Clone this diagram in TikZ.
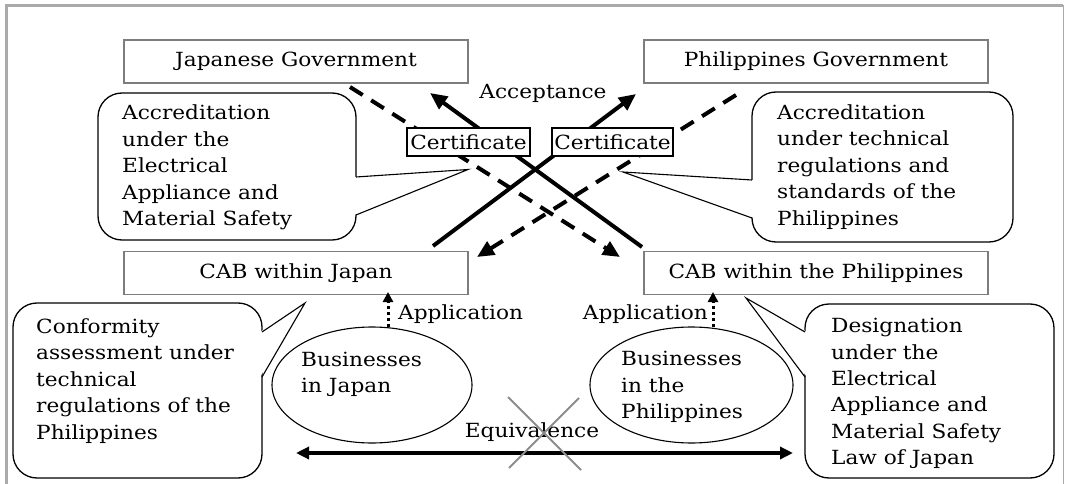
\documentclass[tikz,border=0pt]{standalone}
\usepackage{fontspec}
\setmainfont{DejaVu Serif}[FakeStretch=1.11]
\usetikzlibrary{arrows.meta,shapes.geometric}
\definecolor{boxgray}{RGB}{125,125,125}
\definecolor{framegray}{RGB}{170,170,170}
\definecolor{crossgray}{RGB}{140,140,140}
\begin{document}
\begin{tikzpicture}[x=1pt,y=-1pt,
  every node/.style={font=\fontsize{19.5}{26.4}\selectfont, inner sep=0pt},
  gbox/.style={draw=boxgray, line width=1.5pt, fill=white, minimum width=344pt, minimum height=43pt},
  certbox/.style={draw=black, line width=1.3pt, fill=white, minimum height=28pt},
  bubble/.style={draw=black, line width=1.3pt, fill=white, rounded corners=24pt},
  ptr/.style={draw=black, line width=1.1pt, line join=miter},
  txt/.style={align=left, anchor=west},
  bizell/.style={draw=black, line width=1.1pt, ellipse, minimum width=200pt, minimum height=116pt},
  bigarrow/.style={line width=4pt, -{Triangle[length=17pt,width=15pt]}},
  dasharrow/.style={line width=4pt, dash pattern=on 15pt off 10pt, -{Triangle[length=17pt,width=15pt]}},
  apparrow/.style={line width=3pt, dash pattern=on 3pt off 3pt, -{Triangle[length=10pt,width=10pt]}},
  eqarrow/.style={line width=3.5pt, {Triangle[length=13pt,width=12pt]}-{Triangle[length=13pt,width=12pt]}},
]
\useasboundingbox (0,0) rectangle (1066,484);
% frame
\draw[framegray, line width=3pt] (6,484) -- (6,5.5) -- (1063,5.5);
\draw[framegray, line width=1pt] (1063,5.5) -- (1063,484);

% boxes
\node[gbox] (jg) at (296,61.5) {Japanese Government};
\node[gbox] (pg) at (816,61.5) {Philippines Government};
\node[gbox] (cabj) at (296,273) {CAB within Japan};
\node[gbox] (cabp) at (816,273) {CAB within the Philippines};

% arrow end points
\coordinate (a1s) at (642,247);
\coordinate (a1e) at (430,93);
\coordinate (a2s) at (433,246);
\coordinate (a2e) at (636,94);
\coordinate (d1s) at (350,87);
\coordinate (d1e) at (620,257);
\coordinate (d2s) at (736,95);
\coordinate (d2e) at (477,257);

\draw[dasharrow] (d1s) -- (d1e);
\draw[dasharrow] (d2s) -- (d2e);
\draw[bigarrow] (a1s) -- (a1e);
\draw[bigarrow] (a2s) -- (a2e);

\node[certbox, minimum width=123pt] (cert1) at (468.5,142) {Certificate};
\node[certbox, minimum width=121pt] (cert2) at (612.5,142) {Certificate};
\node (acc) at (543,93) {Acceptance};

% callout 1
\draw[bubble] (98,93) rectangle (356,240);
\fill[white] (354,177) -- (468,169.5) -- (354,215) -- cycle;
\draw[ptr] (356,177) -- (468,169.5) -- (356,215);
\node[txt] (c1t) at (122,167.5) {Accreditation\\under the\\Electrical\\Appliance and\\Material Safety};

% callout 2
\draw[bubble] (752,92) rectangle (1013,242);
\fill[white] (754,180) -- (623,172) -- (754,218) -- cycle;
\draw[ptr] (752,180) -- (623,172) -- (752,218);
\node[txt] (c2t) at (777,167) {Accreditation\\under technical\\regulations and\\standards of the\\Philippines};

% callout 3
\draw[bubble] (13,303) rectangle (262,478);
\fill[white] (260,332) -- (305,303) -- (260,377) -- cycle;
\draw[ptr] (262,332) -- (305,303) -- (262,377);
\node[txt] (c3t) at (36,381) {Conformity\\assessment under\\technical\\regulations of the\\Philippines};

% callout 4
\draw[bubble] (805,304) rectangle (1054,478);
\fill[white] (807,332) -- (746,298) -- (807,377) -- cycle;
\draw[ptr] (805,332) -- (746,298) -- (805,377);
\node[txt] (c4t) at (831,393.5) {Designation\\under the\\Electrical\\Appliance and\\Material Safety\\Law of Japan};

% businesses
\node[bizell] (bj) at (372,385) {};
\node[bizell, minimum width=203pt] (bp) at (691.5,385) {};
\node[txt] (bjt) at (301,374.5) {Businesses\\in Japan};
\node[txt] (bpt) at (621,387) {Businesses\\in the\\Philippines};

% application
\coordinate (ap1s) at (388,327);
\coordinate (ap1e) at (388,292);
\coordinate (ap2s) at (713,327);
\coordinate (ap2e) at (713,292);
\draw[apparrow] (ap1s) -- (ap1e);
\draw[apparrow] (ap2s) -- (ap2e);
\node[anchor=west] (app1) at (398,314) {Application};
\node[anchor=east] (app2) at (708,314) {Application};

% equivalence
\coordinate (eqs) at (296,453);
\coordinate (eqe) at (793,453);
\draw[eqarrow] (eqs) -- (eqe);
\node (eq) at (532,432) {Equivalence};
\coordinate (x1) at (508,397);
\coordinate (x2) at (581,470);
\coordinate (x3) at (579,398);
\coordinate (x4) at (509,468);
\draw[crossgray, line width=2pt] (x1) -- (x2);
\draw[crossgray, line width=2pt] (x3) -- (x4);
\end{tikzpicture}
\end{document}
